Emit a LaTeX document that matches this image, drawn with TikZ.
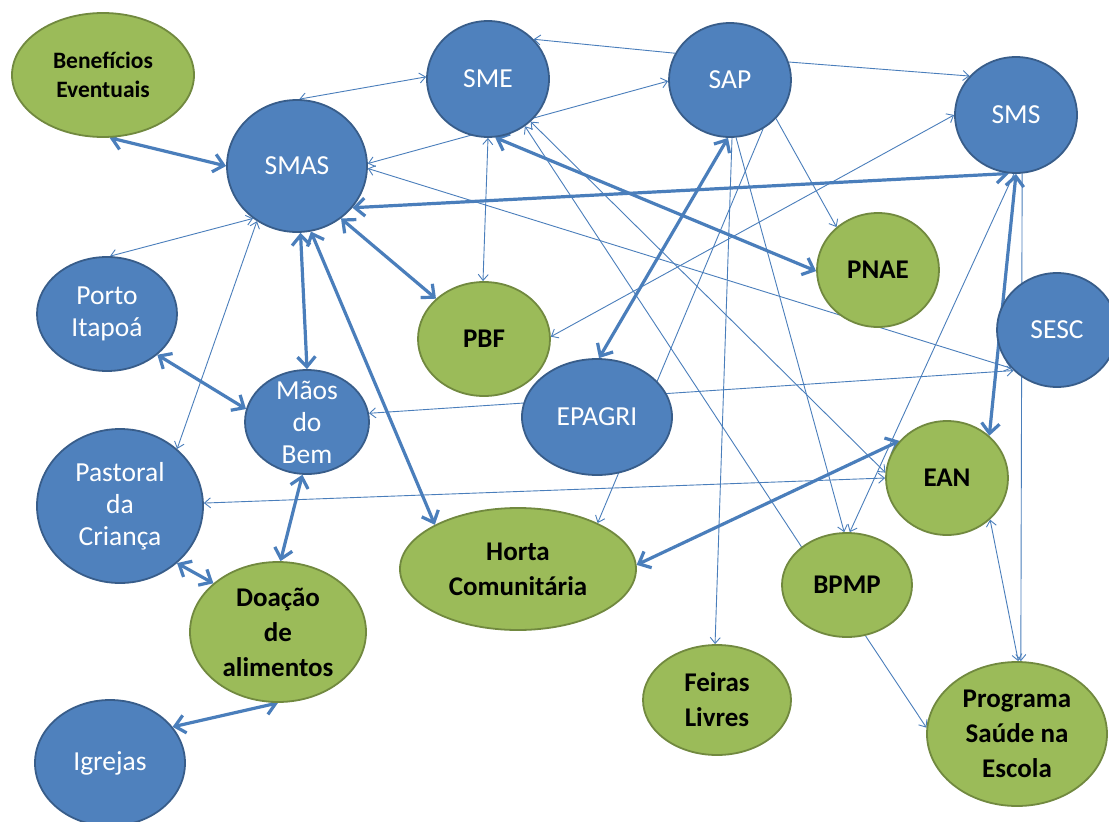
\documentclass[tikz,border=0pt]{standalone}
\usepackage{fontspec}
\setmainfont{Carlito}
\usetikzlibrary{shapes.geometric,arrows.meta}
\definecolor{bfill}{HTML}{4F81BD}
\definecolor{bdraw}{HTML}{385D8A}
\definecolor{gfill}{HTML}{9BBB59}
\definecolor{gdraw}{HTML}{71893F}
\definecolor{lnc}{HTML}{4A7EBB}
\pgfdeclarelayer{bg}
\pgfsetlayers{bg,main}
\begin{document}
\begin{tikzpicture}[x=1pt,y=-1pt,
  bnode/.style={ellipse, draw=bdraw, fill=bfill, line width=1.8pt, inner sep=0pt},
  gnode/.style={ellipse, draw=gdraw, fill=gfill, line width=1.8pt, inner sep=0pt},
  btext/.style={text=white, font=\fontsize{27.5}{32}\selectfont, align=center},
  gtext/.style={text=black, font=\fontsize{27}{35}\selectfont\bfseries, align=center},
  strong/.style={draw=lnc, line width=3.2pt, {Straight Barb[length=10pt,width=18pt]}-{Straight Barb[length=10pt,width=18pt]}},
  weak/.style={draw=lnc, line width=0.9pt},
  onetip/.style={-{Straight Barb[length=6pt,width=10pt]}},
  twotip/.style={{Straight Barb[length=6pt,width=10pt]}-{Straight Barb[length=6pt,width=10pt]}}]
\useasboundingbox (0,0) rectangle (1109,822);

% nodes
\node[gnode, minimum width=182pt, minimum height=124pt, label={[gtext,font=\fontsize{23.5}{29}\selectfont\bfseries]center:Benefícios\\Eventuais}] (ben) at (103,75) {};
\node[bnode, minimum width=140pt, minimum height=132pt, label={[btext]center:SMAS}] (smas) at (297,166) {};
\node[bnode, minimum width=122pt, minimum height=116pt, label={[btext]center:SME}] (sme) at (488,79) {};
\node[bnode, minimum width=122pt, minimum height=114pt, label={[btext]center:SAP}] (sap) at (730,80) {};
\node[bnode, minimum width=122pt, minimum height=116pt, label={[btext]center:SMS}] (sms) at (1016,115) {};
\node[gnode, minimum width=122pt, minimum height=114pt, label={[gtext]center:PNAE}] (pnae) at (878,270) {};
\node[bnode, minimum width=120pt, minimum height=114pt, label={[btext]center:SESC}] (sesc) at (1057,330) {};
\node[bnode, minimum width=140pt, minimum height=114pt, label={[btext]center:Porto\\Itapoá}] (porto) at (107,314) {};
\node[gnode, minimum width=132pt, minimum height=114pt, label={[gtext]center:PBF}] (pbf) at (484,339) {};
\node[bnode, minimum width=124pt, minimum height=104pt, label={[btext]center:Mãos\\do\\Bem}] (maos) at (307,422) {};
\node[bnode, minimum width=150pt, minimum height=116pt, label={[btext]center:EPAGRI}] (epagri) at (597,417) {};
\node[bnode, minimum width=166pt, minimum height=154pt, label={[btext]center:Pastoral\\da\\Criança}] (past) at (120,506) {};
\node[gnode, minimum width=122pt, minimum height=114pt, label={[gtext]center:EAN}] (ean) at (947,478) {};
\node[gnode, minimum width=236pt, minimum height=122pt, label={[gtext]center:Horta\\Comunitária}] (horta) at (518,569) {};
\node[gnode, minimum width=130pt, minimum height=104pt, label={[gtext]center:BPMP}] (bpmp) at (847,585) {};
\node[gnode, minimum width=176pt, minimum height=140pt, label={[gtext]center:Doação\\de\\alimentos}] (doacao) at (278,632) {};
\node[gnode, minimum width=148pt, minimum height=110pt, label={[gtext]center:Feiras\\Livres}] (feiras) at (717,700) {};
\node[gnode, minimum width=180pt, minimum height=144pt, label={[gtext]center:Programa\\Saúde na\\Escola}] (prog) at (1017,734) {};
\node[bnode, minimum width=150pt, minimum height=126pt, label={[btext]center:Igrejas}] (igrejas) at (110,763) {};

\begin{pgfonlayer}{bg}
\fill[white] (0,0) rectangle (1109,822);
% strong connectors
\draw[strong] (ben.-84) -- (smas.180);
\draw[strong] (smas.-50) -- (pbf.140);
\draw[strong] (smas.-87) -- (maos.north);
\draw[strong] (smas.-78) -- (horta.152);
\draw[strong] (smas.-37) -- (sms.-97);
\draw[strong] (sme.-83) -- (pnae.181);
\draw[strong] (sap.-92) -- (epagri.88);
\draw[strong] (sms.-90) -- (ean.45);
\draw[strong] (ean.142) -- (horta.2);
\draw[strong] (porto.-39) -- (maos.168);
\draw[strong] (maos.-95) -- (doacao.88);
\draw[strong] (past.-45) -- (doacao.143);
\draw[strong] (igrejas.30) -- (doacao.-90);
% thin, both ends
\draw[weak,twotip] (smas.88) -- (sme.178);
\draw[weak,twotip] (smas.2) -- (sap.181);
\draw[weak,twotip] (sme.south) -- (pbf.91);
\draw[weak,twotip] (sms.180) -- (pbf.2);
\draw[weak,twotip] (smas.-2) -- (sesc.-140);
\draw[weak,twotip] (maos.8) -- (sesc.-137);
\draw[weak,twotip] (past.2) -- (ean.180);
\draw[weak,twotip] (sme.-45) -- (ean.175);
\draw[weak,twotip] (ean.-44) -- (prog.89);
\draw[weak,twotip] (smas.-130) -- (porto.87);
\draw[weak,twotip] (smas.-126) -- (past.45);
% thin, one end
\draw[weak,onetip] (sap.154) -- (sme.41);
\draw[weak,onetip] (sap.17) -- (sms.140);
\draw[weak,onetip] (sap.-40) -- (pnae.134);
\draw[weak,onetip] (sap.-88) -- (feiras.92);
\draw[weak,onetip] (sap.-84) -- (bpmp.93);
\draw[weak,onetip] (sap.-56) -- (horta.30);
\draw[weak,onetip] (bpmp.140) -- (sme.-52);
\draw[weak,onetip] (sms.-92) -- (bpmp.87);
\draw[weak,onetip] (sms.-84) -- (prog.87);
\draw[weak,onetip] (bpmp.-70) -- (prog.176);
\end{pgfonlayer}
\end{tikzpicture}
\end{document}
